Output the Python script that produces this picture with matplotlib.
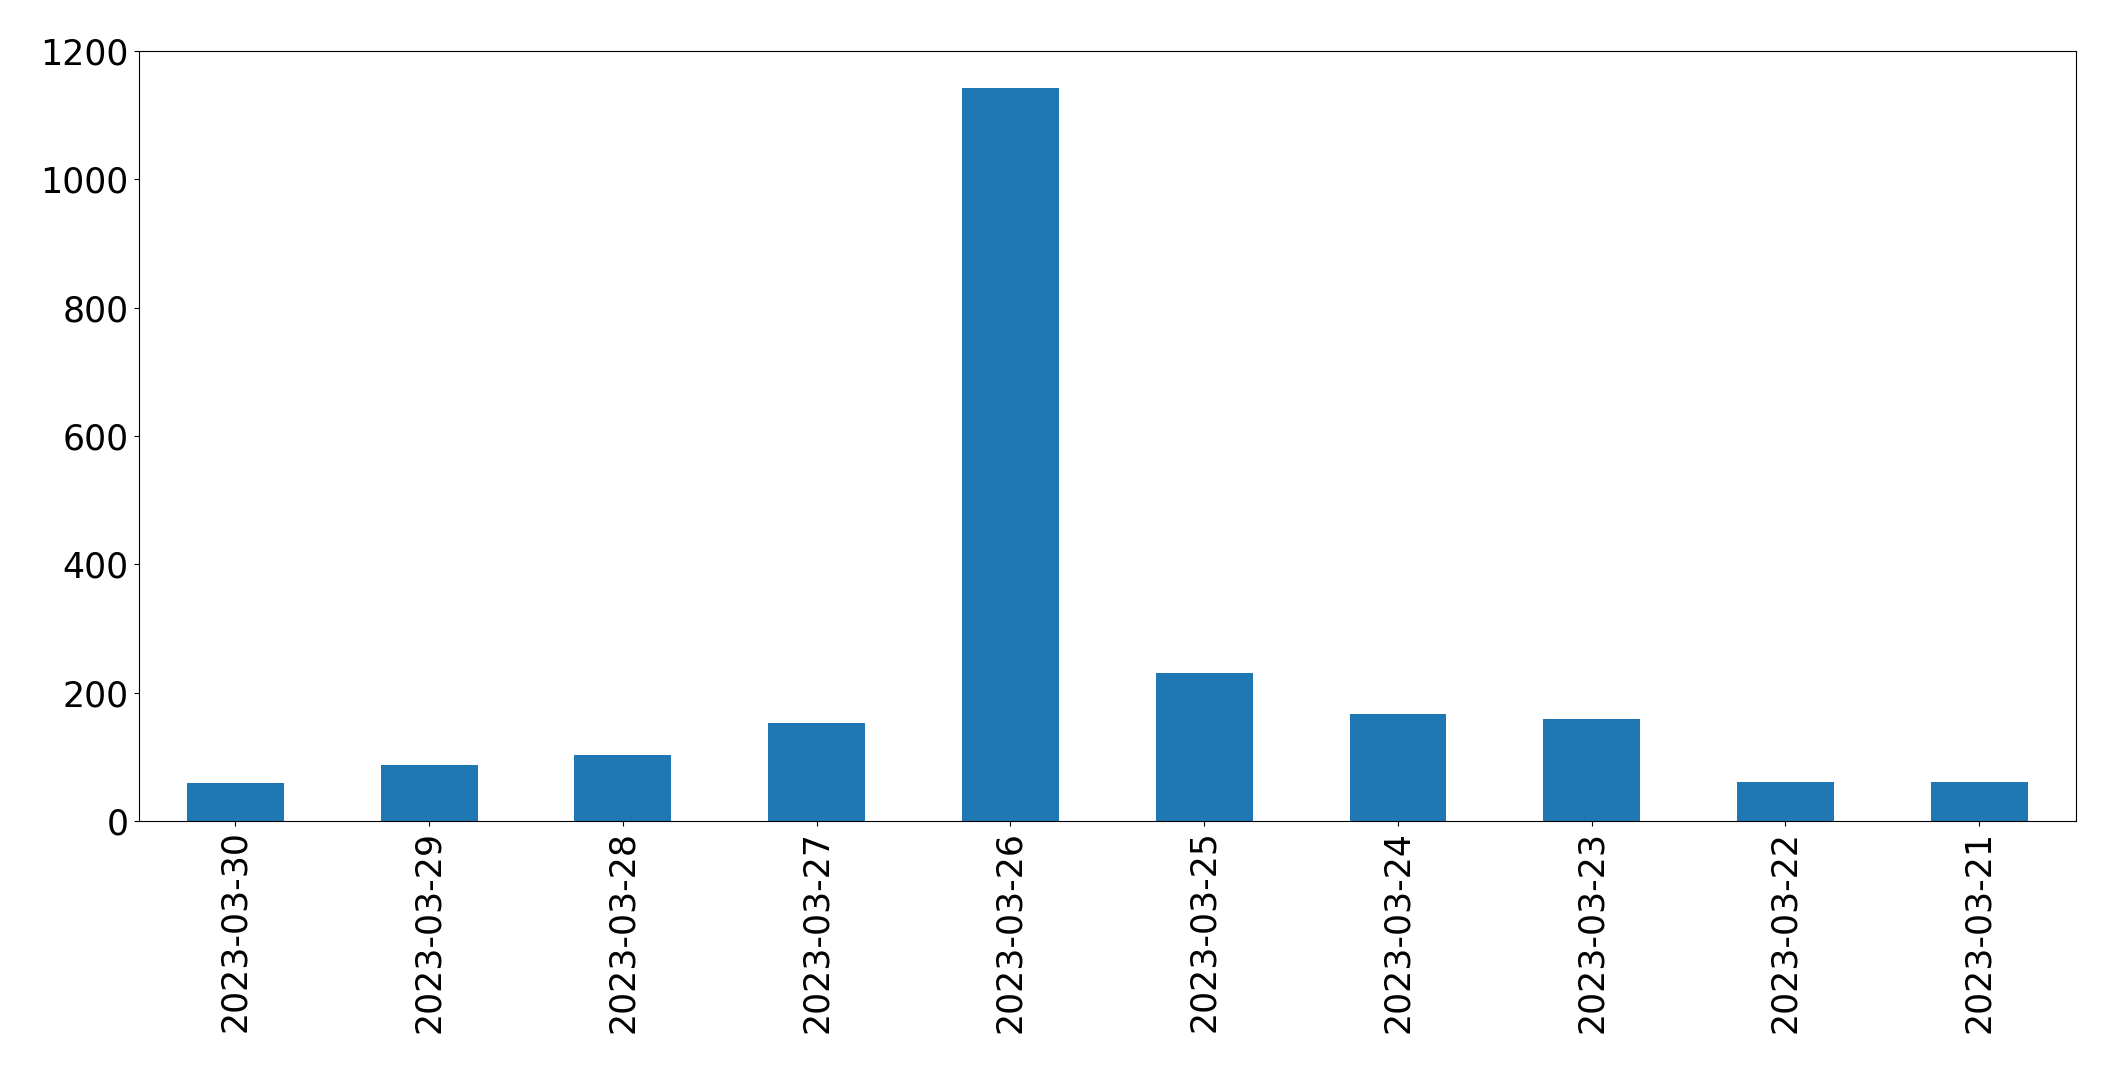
import matplotlib
matplotlib.use('Agg')
import matplotlib.pyplot as plt
import numpy as np

dates = ['2023-03-30', '2023-03-29', '2023-03-28', '2023-03-27', '2023-03-26',
         '2023-03-25', '2023-03-24', '2023-03-23', '2023-03-22', '2023-03-21']
counts = [59, 87, 103, 153, 1143, 231, 167, 158, 61, 61]

fig = plt.figure(figsize=(21.15, 10.73), dpi=100)
ax = fig.add_axes([0.0655, 0.235, 0.9161, 0.7175])

x = np.arange(len(dates))
ax.bar(x, counts, width=0.5, color='#1f77b4')
ax.set_xlim(-0.5, len(dates) - 0.5)
ax.set_ylim(0, 1200)
ax.set_xticks(x)
ax.set_xticklabels(dates, rotation=90)
ax.set_yticks([0, 200, 400, 600, 800, 1000, 1200])
ax.tick_params(labelsize=25)

fig.savefig('out.png', dpi=100)
